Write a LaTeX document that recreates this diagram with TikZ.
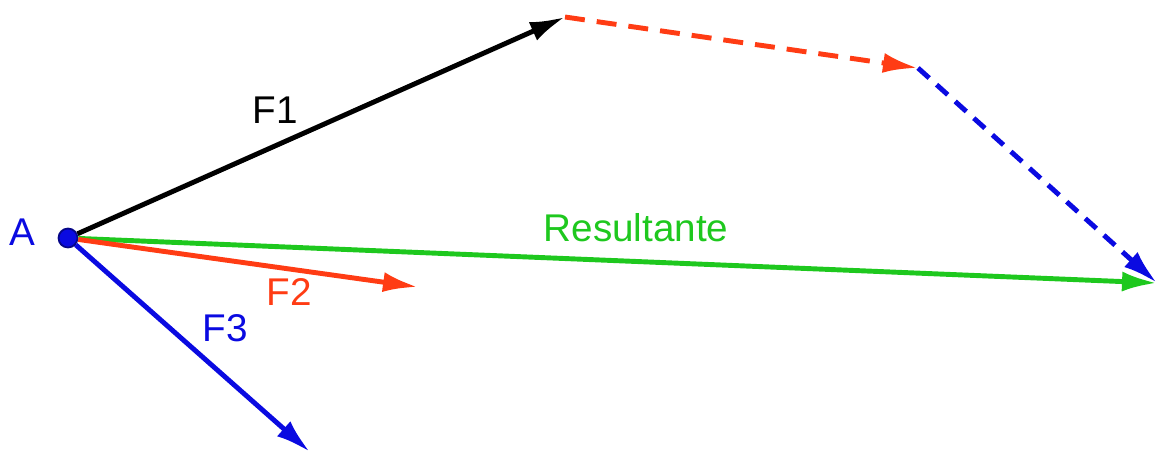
\documentclass[tikz,border=0pt]{standalone}
\usepackage{fontspec}
\setmainfont{Liberation Sans}
\usetikzlibrary{arrows.meta}

\definecolor{fred}{RGB}{255,60,20}
\definecolor{fblue}{RGB}{10,10,225}
\definecolor{fgreen}{RGB}{30,200,30}

\tikzset{
  vec/.style={line width=2.8pt,-{Latex[length=7mm,width=4mm]}},
  dvec/.style={vec,dash pattern=on 4mm off 2.4mm},
  lab/.style={font=\fontsize{22}{26}\selectfont,inner sep=0pt},
  dot/.style={circle,fill=fblue,draw=fblue!60!black,line width=1pt,minimum size=3.8mm,inner sep=0pt}
}

\begin{document}
\begin{tikzpicture}[x=0.02cm,y=-0.02cm,>=Latex]
  \useasboundingbox (0,0) rectangle (1158,453);
  \node[dot] (A) at (68,238) {};
  % points
  \coordinate (P1) at (565,17);
  \coordinate (P2) at (918,68);
  \coordinate (R) at (1157,283);
  \coordinate (F2) at (418,287);
  \coordinate (F3) at (310,452);
  % vectors from A
  \draw[vec,black] (A) -- (P1);
  \draw[vec,fgreen] (A) -- (R);
  \draw[vec,fred] (A) -- (F2);
  \draw[vec,fblue] (A) -- (F3);
  % polygon of forces
  \draw[dvec,fred] (P1) -- (P2);
  \draw[dvec,fblue,dash pattern=on 3mm off 2mm] (P2) -- (R);
  % labels
  \node[lab,fblue] (lA) at (22,232) {A};
  \node[lab,black] (l1) at (275,110) {F1};
  \node[lab,fred] (l2) at (289,292) {F2};
  \node[lab,fblue] (l3) at (225,328) {F3};
  \node[lab,fgreen] (lR) at (636,228) {Resultante};
\end{tikzpicture}
\end{document}
